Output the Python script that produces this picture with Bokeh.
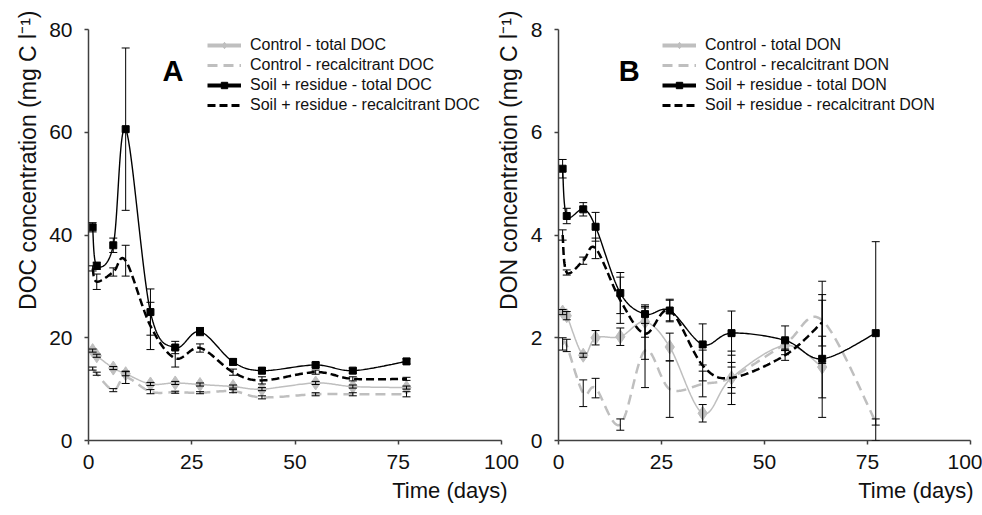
import numpy as np
from bokeh.plotting import figure
from bokeh.models import (ColumnDataSource, Whisker, TeeHead, Range1d, FixedTicker,
                          Legend, LegendItem, Label, Title)
from bokeh.layouts import row
from bokeh.embed import file_html
from bokeh.resources import INLINE

nan = float("nan")

# ---------------- data ----------------
days = [1, 2, 6, 9, 15, 21, 27, 35, 42, 55, 64, 77]
x_ticks = [0, 25, 50, 75, 100]

# Panel A (DOC, mg C l-1)
ctrl_total_doc     = [17.5, 16.5, 14.1, 13.0, 11.0, 11.2, 10.9, 10.5, 10.0, 11.2, 10.5, 10.3]
ctrl_total_doc_err = [0.3, 0.3, 0.3, 0.4, 0.3, 0.3, 0.3, 0.3, 0.3, 0.3, 0.3, 0.3]
ctrl_rec_doc       = [14.0, 13.0, 9.8, 12.3, 9.5, 9.4, 9.3, 9.6, 8.4, 9.0, 9.0, 9.0]
ctrl_rec_doc_err   = [0.3, 0.3, 0.3, 1.2, 0.4, 0.2, 0.2, 0.3, 0.3, 0.3, 0.3, 0.5]
soil_total_doc     = [41.5, 34.0, 38.0, 60.6, 25.0, 18.1, 21.2, 15.3, 13.6, 14.7, 13.6, 15.4]
soil_total_doc_err = [0.9, 0.7, 1.4, 15.8, 4.5, 1.2, 0.8, 0.6, 0.6, 0.4, 0.5, 0.5]
soil_rec_doc       = [33.5, 30.9, 32.8, 35.0, 22.3, 16.0, 18.0, 13.3, 11.7, 13.3, 12.0, 12.0]
soil_rec_doc_err   = [0.5, 1.5, 0.8, 3.0, 4.6, 1.7, 0.8, 0.6, 0.7, 0.4, 0.4, 0.3]
doc_ticks = [0, 20, 40, 60, 80]

# Panel B (DON)
ctrl_total_don     = [2.50, 2.43, 1.66, 2.00, 2.02, 2.31, 1.82, 0.53, 1.22, 1.85, 1.43, nan]
ctrl_total_don_err = [0.05, 0.08, 0.04, 0.14, 0.17, 0.30, 0.27, 0.17, 0.52, 0.10, 0.60, nan]
ctrl_rec_don       = [1.88, 1.85, 0.92, 1.02, 0.31, 1.75, 1.00, 1.10, 1.23, 1.88, 2.34, 0.36]
ctrl_rec_don_err   = [0.12, 0.12, 0.26, 0.19, 0.11, 0.72, 0.55, 0.25, 0.20, 0.10, 0.50, 0.06]
soil_total_don     = [5.29, 4.37, 4.50, 4.16, 2.87, 2.46, 2.53, 1.87, 2.09, 1.95, 1.59, 2.09]
soil_total_don_err_hi = [0.18, 0.15, 0.13, 0.28, 0.40, 0.18, 0.22, 0.40, 0.43, 0.28, 1.14, 1.78]
soil_total_don_err_lo = [0.18, 0.15, 0.13, 0.28, 0.40, 0.18, 0.22, 0.40, 0.43, 0.28, 1.14, 2.09]
soil_rec_don       = [4.00, 3.27, 3.50, 3.74, 2.73, 2.08, 2.53, 1.46, 1.22, 1.66, 2.30, nan]
soil_rec_don_err   = [0.10, 0.05, 0.07, 0.20, 0.45, 0.50, 0.20, 0.30, 0.30, 0.10, 0.80, nan]
don_ticks = [0, 2, 4, 6, 8]

labels_A = ["Control - total DOC", "Control - recalcitrant DOC",
            "Soil + residue - total DOC", "Soil + residue - recalcitrant DOC"]
labels_B = ["Control - total DON", "Control - recalcitrant DON",
            "Soil + residue - total DON", "Soil + residue - recalcitrant DON"]

FONT = "Liberation Sans"
GREY = "#BFBFBF"
AXIS = "#404040"
TXT = "#111111"


def smooth(xs, ys, n=30):
    """Excel-like smoothed line (Catmull-Rom Bezier through the data points)."""
    px = np.asarray(xs, float)
    py = np.asarray(ys, float)
    m = len(px)
    outx, outy = [px[0]], [py[0]]
    t = np.linspace(0, 1, n + 1)[1:]
    for i in range(m - 1):
        a = i - 1 if i > 0 else i
        d = i + 2 if i + 2 < m else i + 1
        c1x = px[i] + (px[i + 1] - px[a]) / 6.0
        c1y = py[i] + (py[i + 1] - py[a]) / 6.0
        c2x = px[i + 1] - (px[d] - px[i]) / 6.0
        c2y = py[i + 1] - (py[d] - py[i]) / 6.0
        bx = (1 - t) ** 3 * px[i] + 3 * (1 - t) ** 2 * t * c1x + 3 * (1 - t) * t ** 2 * c2x + t ** 3 * px[i + 1]
        by = (1 - t) ** 3 * py[i] + 3 * (1 - t) ** 2 * t * c1y + 3 * (1 - t) * t ** 2 * c2y + t ** 3 * py[i + 1]
        outx.extend(bx.tolist())
        outy.extend(by.tolist())
    return outx, outy


def add_series(p, ys, err_lo, err_hi, color, dash, width, marker=None, msize=7, leg_width=3):
    keep = [i for i, y in enumerate(ys) if not np.isnan(y)]
    xv = [days[i] for i in keep]
    yv = [ys[i] for i in keep]
    lo = [ys[i] - err_lo[i] for i in keep]
    hi = [ys[i] + err_hi[i] for i in keep]
    cx, cy = smooth(xv, yv)
    p.line(cx, cy, line_color=color, line_width=width, line_dash=dash)
    if marker:
        p.scatter(xv, yv, marker=marker, size=msize, fill_color=color, line_color=color)
    src = ColumnDataSource(dict(x=xv, lower=lo, upper=hi))
    w = Whisker(base="x", lower="lower", upper="upper", source=src,
                line_color="black", line_width=1, level="annotation",
                upper_head=TeeHead(size=8, line_color="black", line_width=1),
                lower_head=TeeHead(size=8, line_color="black", line_width=1))
    p.add_layout(w)
    # legend-only glyphs (legend keys are drawn thicker than the plotted lines)
    rs = [p.line([nan], [nan], line_color=color, line_width=leg_width, line_dash=dash)]
    if marker:
        rs.append(p.scatter([nan], [nan], marker=marker, size=msize + 3,
                            fill_color=color, line_color=color))
    return rs


def make_panel(width, ymax, yticks, ylabel, min_left, min_right, xtitle_offset):
    p = figure(width=width, height=515, x_range=Range1d(0, 100), y_range=Range1d(0, ymax),
               output_backend="svg", toolbar_location=None,
               min_border_left=min_left, min_border_right=min_right,
               min_border_top=29, min_border_bottom=75)
    p.outline_line_color = None
    p.xgrid.visible = False
    p.ygrid.visible = False
    p.border_fill_alpha = 0
    for ax, ticks in ((p.xaxis[0], x_ticks), (p.yaxis[0], yticks)):
        ax.ticker = FixedTicker(ticks=ticks)
        ax.minor_tick_line_color = None
        ax.major_tick_in = 0
        ax.major_tick_out = 4
        ax.axis_line_color = AXIS
        ax.axis_line_width = 1.5
        ax.major_tick_line_color = AXIS
        ax.major_tick_line_width = 1.5
        ax.major_label_text_font = FONT
        ax.major_label_text_font_size = "21px"
        ax.major_label_text_color = TXT
    p.xaxis.major_label_standoff = 10
    p.yaxis.major_label_standoff = 12
    yt = Title(text=ylabel, align="right", offset=-19, text_font=FONT,
               text_font_size="23px", text_font_style="normal", text_color=TXT,
               standoff=12, vertical_align="bottom")
    p.add_layout(yt, "left")
    xt = Title(text="Time (days)", align="right", offset=xtitle_offset, text_font=FONT,
               text_font_size="22px", text_font_style="normal", text_color=TXT,
               standoff=12, vertical_align="top")
    p.add_layout(xt, "below")
    return p


def add_legend(p, items, x):
    leg = Legend(items=items, location=(x, 326), orientation="vertical",
                 label_text_font=FONT, label_text_font_size="16px", label_text_color=TXT,
                 glyph_width=34, glyph_height=16, label_height=16, label_standoff=9,
                 spacing=2, padding=0, margin=0,
                 border_line_alpha=0, background_fill_alpha=0)
    p.add_layout(leg)


# ---------------- Panel A ----------------
pA = make_panel(520, 80, doc_ticks, "DOC concentration (mg C l\u207b\u00b9)", 88, 19, -6)
pA.border_fill_alpha = 1
pA.border_fill_color = "white"
rA1 = add_series(pA, ctrl_total_doc, ctrl_total_doc_err, ctrl_total_doc_err, GREY, "solid", 1.5, "diamond", 14, 4)
rA2 = add_series(pA, ctrl_rec_doc, ctrl_rec_doc_err, ctrl_rec_doc_err, GREY, "10 6", 2.5, None, 7, 3)
rA3 = add_series(pA, soil_total_doc, soil_total_doc_err, soil_total_doc_err, "black", "solid", 1.4, "square", 7, 4)
rA4 = add_series(pA, soil_rec_doc, soil_rec_doc_err, soil_rec_doc_err, "black", "8 4", 2.5, None, 7, 3)
add_legend(pA, [LegendItem(label=l, renderers=r) for l, r in zip(labels_A, [rA1, rA2, rA3, rA4])], 119)
pA.add_layout(Label(x=17.9, y=68.9, text="A", text_font=FONT, text_font_size="29px",
                    text_font_style="bold", text_color="black"))

# ---------------- Panel B ----------------
pB = make_panel(499, 8, don_ticks, "DON concentration (mg C l\u207b\u00b9)", 75, 12, -3)
rB1 = add_series(pB, ctrl_total_don, ctrl_total_don_err, ctrl_total_don_err, GREY, "solid", 1.5, "diamond", 14, 4)
rB2 = add_series(pB, ctrl_rec_don, ctrl_rec_don_err, ctrl_rec_don_err, GREY, "10 6", 2.5, None, 7, 3)
rB3 = add_series(pB, soil_total_don, soil_total_don_err_lo, soil_total_don_err_hi, "black", "solid", 1.4, "square", 7, 4)
rB4 = add_series(pB, soil_rec_don, soil_rec_don_err, soil_rec_don_err, "black", "8 4", 2.5, None, 7, 3)
add_legend(pB, [LegendItem(label=l, renderers=r) for l, r in zip(labels_B, [rB1, rB2, rB3, rB4])], 104)
pB.add_layout(Label(x=14.6, y=6.89, text="B", text_font=FONT, text_font_size="29px",
                    text_font_style="bold", text_color="black"))
pB.margin = (0, 0, 0, -37)

layout = row(pA, pB)
open("out.html", "w").write(file_html(layout, INLINE))
